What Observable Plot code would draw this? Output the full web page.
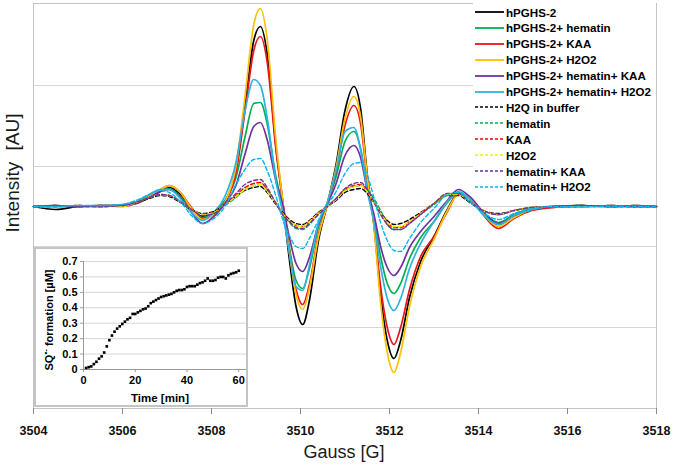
<!DOCTYPE html>
<html><head><meta charset="utf-8">
<script src="https://cdn.jsdelivr.net/npm/d3@7"></script>
<script src="https://cdn.jsdelivr.net/npm/@observablehq/plot@0.6"></script>
<style>
body{margin:0;background:#fff;font-family:"Liberation Sans",Arial,sans-serif;}
#wrap{position:relative;width:675px;height:465px;overflow:hidden;background:#fff;}
#main{position:absolute;left:0;top:0;}
.lab{position:absolute;white-space:nowrap;color:#1a1a1a;}
#ylab{left:13px;top:173px;font-size:19px;transform:translate(-50%,-50%) rotate(-90deg);word-spacing:6px;}
#xlab{left:344px;top:452px;font-size:18px;transform:translate(-50%,-50%);}
#legend{position:absolute;left:473px;top:3px;width:183px;height:193px;background:#fff;}
.row{position:absolute;left:2px;height:14px;display:flex;align-items:center;font-size:11.6px;font-weight:bold;color:#000;white-space:nowrap;}
.row svg{margin-right:2px;flex:none;}
#inset{position:absolute;left:34px;top:247px;width:210px;height:156px;border:2px solid #c4c4c4;background:#fff;}
#iylab{left:48px;top:320px;font-size:11px;font-weight:bold;color:#000;transform:translate(-50%,-50%) rotate(-90deg);}
#ixlab{left:160px;top:398px;font-size:11.5px;font-weight:bold;color:#000;transform:translate(-50%,-50%);}
</style></head><body>
<div id="wrap">
  <div id="main"></div>
  <div id="legend"></div>
  <div id="inset"></div>
  <div class="lab" id="ylab">Intensity [AU]</div>
  <div class="lab" id="xlab">Gauss [G]</div>
  <div class="lab" id="iylab">SQ<sup style="font-size:8px">&#8226;-</sup> formation [&micro;M]</div>
  <div class="lab" id="ixlab">Time [min]</div>
</div>
<script>
// Magnetic field (Gauss)
const gauss = [3504,3504.5,3505,3505.5,3506,3506.3,3506.6,3506.85,3507.05,3507.3,3507.55,3507.8,3508.05,3508.3,3508.55,3508.75,3508.95,3509.1,3509.25,3509.45,3509.6,3509.75,3509.9,3510.05,3510.2,3510.4,3510.6,3510.8,3511.0,3511.2,3511.35,3511.5,3511.65,3511.8,3511.95,3512.1,3512.25,3512.45,3512.7,3513.0,3513.3,3513.55,3513.8,3514.1,3514.45,3514.8,3515.2,3515.7,3516.3,3517,3517.5,3518];
const gaussTicks = [3504,3506,3508,3510,3512,3514,3516,3518];
const gridLevels = [-121,-40,0,40,121];

// Intensity [AU] per series
const hPGHS2 = [0,-3,0,1,1,3,9,15,19,12,-2,-10,-6,5,36,99,166,180,153,59,5,-53,-100,-118,-94,-35,2,42,96,120,98,32,-18,-88,-134,-152,-134,-91,-55,-30,-3,13,8,-6,-18,-9,-3,0,1,0,1,0];
const hPGHS2Hematin = [0,0,0,1,1,4,11,16,18,10,-3,-11,-6,6,29,69,103,104,83,29,0,-41,-74,-82,-62,-21,3,30,65,75,58,18,-12,-50,-77,-87,-77,-52,-31,-15,4,14,8,-6,-16,-8,-2,0,1,0,0,0];
const hPGHS2KAA = [0,1,0,1,0,3,10,17,21,14,-1,-12,-8,4,34,94,156,170,145,56,5,-44,-83,-98,-78,-29,2,35,81,101,83,27,-17,-80,-121,-138,-121,-83,-50,-30,-5,13,9,-8,-22,-12,-4,-1,0,1,0,0];
const hPGHS2H2O2 = [0,0,1,0,1,3,10,17,21,14,-2,-13,-8,4,40,109,182,198,168,65,6,-46,-88,-103,-82,-31,2,39,88,110,90,30,-20,-96,-146,-166,-146,-100,-60,-33,-4,12,8,-7,-20,-11,-3,0,0,1,0,0];
const hPGHS2HematinKAA = [0,1,0,0,1,3,9,15,17,9,-6,-17,-10,3,21,52,80,84,67,25,2,-31,-57,-65,-51,-18,2,23,51,61,49,16,-8,-40,-61,-69,-61,-41,-25,-10,6,17,10,-5,-17,-9,-3,0,0,1,0,0];
const hPGHS2HematinH2O2 = [0,0,1,0,2,5,12,17,17,8,-6,-14,-6,10,44,95,127,121,89,25,-6,-46,-80,-84,-59,-17,4,36,75,79,57,16,-16,-60,-92,-104,-92,-62,-37,-15,5,15,8,-8,-18,-9,-3,0,0,0,1,0];
const h2qBuffer = [0,0,1,0,1,4,8,11,10,4,-3,-7,-5,2,10,16,19,20,14,2,-6,-13,-17,-18,-14,-6,0,6,14,17,18,13,4,-6,-14,-18,-17,-13,-6,3,11,11,4,-4,-7,-4,-1,0,1,0,0,0];
const hematin = [0,1,0,0,1,4,9,12,11,5,-3,-8,-7,1,9,17,21,22,16,3,-8,-16,-22,-23,-18,-8,0,7,16,20,21,17,8,-4,-18,-23,-23,-17,-8,2,11,12,5,-4,-8,-4,-1,0,0,1,0,0];
const kaa = [0,0,0,1,1,4,9,12,11,5,-3,-8,-6,2,11,19,23,24,17,3,-7,-14,-19,-20,-15,-7,0,8,17,21,22,15,4,-7,-16,-21,-21,-15,-7,3,12,12,5,-4,-8,-4,-1,0,0,0,1,0];
const h2o2 = [0,0,1,0,0,4,9,12,11,5,-3,-8,-6,2,10,17,21,22,15,3,-7,-14,-19,-20,-15,-7,0,7,16,20,21,15,4,-7,-16,-20,-20,-15,-7,3,12,12,5,-4,-8,-4,-1,0,0,0,0,0];
const hematinKAA = [0,1,0,0,1,4,9,12,11,5,-3,-9,-7,2,13,22,26,27,19,3,-8,-15,-21,-22,-17,-8,0,8,18,23,24,17,5,-8,-18,-23,-23,-17,-8,3,13,13,5,-4,-8,-4,-1,0,1,0,0,0];
const hematinH2O2 = [0,0,1,1,2,6,12,16,14,5,-9,-17,-12,0,22,37,47,48,36,10,-13,-29,-40,-42,-32,-14,1,15,33,43,44,31,9,-16,-34,-44,-45,-32,-16,-2,12,14,5,-6,-13,-7,-2,0,0,0,0,0];

const seriesNames = ["hPGHS-2","hPGHS-2+ hematin","hPGHS-2+ KAA","hPGHS-2+ H2O2","hPGHS-2+ hematin+ KAA","hPGHS-2+ hematin+ H2O2","H2Q in buffer","hematin","KAA","H2O2","hematin+ KAA","hematin+ H2O2"];
const seriesValues = [hPGHS2,hPGHS2Hematin,hPGHS2KAA,hPGHS2H2O2,hPGHS2HematinKAA,hPGHS2HematinH2O2,h2qBuffer,hematin,kaa,h2o2,hematinKAA,hematinH2O2];
const seriesColors = ["#000000","#00b050","#e8141a","#ffc000","#7030a0","#2eb2e0","#000000","#00b050","#ff0000","#f2f200","#7030a0","#00b8f0"];
const seriesDashed = [false,false,false,false,false,false,true,true,true,true,true,true];

// Inset: semiquinone formation over time
const timeMin = [1,2,3,4,5,6,7,8,9,10,11,12,13,14,15,16,17,18,19,20,21,22,23,24,25,26,27,28,29,30,31,32,33,34,35,36,37,38,39,40,41,42,43,44,45,46,47,48,49,50,51,52,53,54,55,56,57,58,59,60];
const sqFormation = [0.01,0.015,0.02,0.035,0.05,0.07,0.085,0.11,0.15,0.19,0.22,0.245,0.265,0.28,0.295,0.31,0.325,0.335,0.36,0.36,0.37,0.38,0.39,0.395,0.41,0.43,0.44,0.45,0.46,0.47,0.475,0.48,0.485,0.49,0.5,0.51,0.515,0.515,0.52,0.535,0.54,0.54,0.54,0.55,0.56,0.565,0.575,0.59,0.575,0.575,0.58,0.595,0.6,0.6,0.59,0.61,0.62,0.625,0.63,0.64];
const sqTicks = [0,0.1,0.2,0.3,0.4,0.5,0.6,0.7];
const timeTicks = [0,20,40,60];

const font = '"Liberation Sans", Arial, sans-serif';

const lineMarks = seriesNames.map((name, s) => {
  const rows = gauss.map((g, i) => ({g, v: seriesValues[s][i]}));
  return Plot.line(rows, {
    x: "g", y: "v", curve: "monotone-x",
    stroke: seriesColors[s],
    strokeWidth: seriesDashed[s] ? 1.4 : 1.7,
    strokeDasharray: seriesDashed[s] ? "4,2.5" : null
  });
});

const main = Plot.plot({
  width: 675, height: 465,
  marginLeft: 33, marginRight: 19, marginTop: 3, marginBottom: 57,
  style: {fontFamily: font, background: "transparent", color: "#111"},
  x: {domain: [3504, 3518]},
  y: {domain: [-202, 203], axis: null},
  marks: [
    Plot.gridY(gridLevels, {stroke: "#d6d6d6", strokeOpacity: 1}),
    Plot.frame({stroke: "#c4c4c4"}),
    ...lineMarks,
    Plot.axisX({ticks: gaussTicks, tickFormat: d => String(d), tickSize: 6, tickPadding: 12,
      fontSize: 12.5, fontWeight: "bold", stroke: "#8a8a8a", label: null})
  ]
});
document.getElementById("main").appendChild(main);

// Legend
const legend = document.getElementById("legend");
seriesNames.forEach((name, s) => {
  const row = document.createElement("div");
  row.className = "row";
  row.style.top = (2 + s * 15.9) + "px";
  const dash = seriesDashed[s] ? ' stroke-dasharray="3,2"' : '';
  row.innerHTML = `<svg width="29" height="4"><line x1="0" y1="2" x2="29" y2="2" stroke="${seriesColors[s]}" stroke-width="${seriesDashed[s] ? 1.4 : 1.8}"${dash}/></svg><span>${name}</span>`;
  legend.appendChild(row);
});

// Inset
const inset = Plot.plot({
  width: 210, height: 156,
  marginLeft: 47, marginRight: 0, marginTop: 12, marginBottom: 36,
  style: {fontFamily: font, background: "transparent", color: "#000"},
  x: {domain: [0, 63]},
  y: {domain: [0, 0.7]},
  marks: [
    Plot.gridY(sqTicks, {stroke: "#d6d6d6", strokeOpacity: 1}),
    Plot.ruleX([0], {stroke: "#9a9a9a"}),
    Plot.ruleY([0], {stroke: "#9a9a9a"}),
    Plot.axisY({ticks: sqTicks, tickFormat: d => d === 0 ? "0" : d.toFixed(1), tickSize: 3, tickPadding: 3,
      fontSize: 11, fontWeight: "bold", stroke: "#9a9a9a", label: null}),
    Plot.axisX({ticks: timeTicks, tickFormat: d => String(d), tickSize: 3, tickPadding: 4,
      fontSize: 11, fontWeight: "bold", stroke: "#9a9a9a", label: null}),
    Plot.dot(timeMin.map((t, i) => ({t, v: sqFormation[i]})), {x: "t", y: "v", symbol: "square", r: 1.5, fill: "#000", stroke: "none"})
  ]
});
document.getElementById("inset").appendChild(inset);
</script>
</body></html>
